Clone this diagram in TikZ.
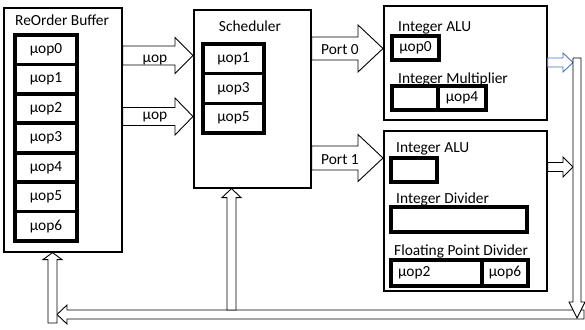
\documentclass[tikz,border=0pt]{standalone}
\usepackage{fontspec}
\setmainfont{Carlito}
\usetikzlibrary{calc}
\definecolor{portblue}{RGB}{68,114,196}
\tikzset{
  unitbox/.style={draw, line width=1.6pt, anchor=north west, inner sep=0pt},
  cell/.style={draw, line width=3.6pt, inner sep=0pt, minimum height=29.4pt},
  slot/.style={draw, line width=3.8pt, inner sep=0pt, minimum height=24pt},
  caption/.style={anchor=base west, inner sep=0pt},
  arrowtext/.style={anchor=base, inner sep=0pt},
  blockarrow/.style={draw, fill=white, line width=0.9pt, line join=miter},
}
% block arrows: [style]{start}{end}{half shaft}{half head}{offset of head base}
\newcommand\hblock[6][]{%
  \draw[blockarrow,#1] ($(#2)+(0,-#4)$) -- ($(#3)+(#6,-#4)$) -- ($(#3)+(#6,-#5)$) -- (#3)
    -- ($(#3)+(#6,#5)$) -- ($(#3)+(#6,#4)$) -- ($(#2)+(0,#4)$) -- cycle;}
\newcommand\vblock[6][]{%
  \draw[blockarrow,#1] ($(#2)+(-#4,0)$) -- ($(#3)+(-#4,#6)$) -- ($(#3)+(-#5,#6)$) -- (#3)
    -- ($(#3)+(#5,#6)$) -- ($(#3)+(#4,#6)$) -- ($(#2)+(#4,0)$) -- cycle;}
\begin{document}
\begin{tikzpicture}[x=1pt,y=-1pt,font=\fontsize{15.4}{18}\selectfont]
  \useasboundingbox (0,0) rectangle (585,329);
  % reorder buffer
  \node[unitbox, minimum width=118, minimum height=244] (rob) at (3,7) {};
  \node[caption] (robtitle) at (15,26) {ReOrder Buffer};
  \foreach \i in {0,...,6}
    \node[cell, minimum width=62] (r\i) at (46,{49.7+\i*29.43}) {µop\i};
  % scheduler
  \node[unitbox, minimum width=117, minimum height=178] (sched) at (193,9) {};
  \node[arrowtext] (schedtitle) at (250,32) {Scheduler};
  \foreach \n [count=\k from 0] in {1,3,5}
    \node[cell, minimum width=61, minimum height=29.7] (s\n) at (233.5,{58.8+\k*29.7}) {µop\n};
  % execution units behind port 0
  \node[unitbox, minimum width=163, minimum height=114] (unit0) at (383,5) {};
  \node[caption] (alu0title) at (398,32) {Integer ALU};
  \node[slot, minimum width=47] (alu0) at (415.5,48) {µop0};
  \node[caption] (multitle) at (398,83) {Integer Multiplier};
  \node[slot, minimum width=46] (mula) at (415,98) {};
  \node[slot, minimum width=48] (mulb) at (462,98) {µop4};
  % execution units behind port 1
  \node[unitbox, minimum width=163, minimum height=160] (unit1) at (383,130) {};
  \node[caption] (alu1title) at (396,152) {Integer ALU};
  \node[slot, minimum width=46] (alu1) at (414,170) {};
  \node[caption] (divtitle) at (396,203) {Integer Divider};
  \node[slot, minimum width=136, minimum height=25] (div) at (459,219.5) {};
  \node[caption] (fpdtitle) at (394,255) {Floating Point Divider};
  \node[slot, minimum width=91, minimum height=26, text width=77, inner xsep=7, align=left] (fpda) at (436.5,273) {µop2};
  \node[slot, minimum width=46, minimum height=26] (fpdb) at (505,273) {µop6};
  % ends of the arrows
  \coordinate (a1s) at (rob.east |- 0,55.5);
  \coordinate (a1e) at (sched.west |- 0,55.5);
  \coordinate (a2s) at (rob.east |- 0,116.5);
  \coordinate (a2e) at (sched.west |- 0,116.5);
  \coordinate (p0s) at (sched.east |- 0,48.5);
  \coordinate (p0e) at (unit0.west |- 0,48.5);
  \coordinate (p1s) at (sched.east |- 0,158);
  \coordinate (p1e) at (unit1.west |- 0,158);
  \coordinate (o0s) at (unit0.east |- 0,62.5);
  \coordinate (o0e) at (573,62.5);
  \coordinate (o1s) at (unit1.east |- 0,167);
  \coordinate (o1e) at (573,167);
  \coordinate (bustop) at (577,58);
  \coordinate (busbot) at (577,318);
  \coordinate (rets) at (584,314.5);
  \coordinate (rete) at (57,314.5);
  \coordinate (robs) at (52.5,323);
  \coordinate (robe) at (52.5,0 |- rob.south);
  \coordinate (scheds) at (231.5,310);
  \coordinate (schede) at (231.5,0 |- sched.south);
  % arrows
  \hblock{a1s}{a1e}{9.5}{18}{-18}
  \hblock{a2s}{a2e}{9}{18.5}{-18}
  \hblock{p0s}{p0e}{11.5}{23.5}{-25}
  \hblock{p1s}{p1e}{12}{23.5}{-25}
  \hblock[draw=portblue]{o0s}{o0e}{4.5}{9.5}{-10}
  \hblock{o1s}{o1e}{4.5}{10}{-10}
  \hblock{rets}{rete}{4.5}{9.5}{10}
  \vblock{bustop}{busbot}{4}{8}{-16}
  \vblock{robs}{robe}{4.5}{9.5}{7}
  \vblock{scheds}{schede}{4.5}{9.5}{9}
  % arrow labels
  \node[arrowtext] (a1lbl) at (155,62) {µop};
  \node[arrowtext] (a2lbl) at (155,119.5) {µop};
  \node[arrowtext] (p0lbl) at (340,55) {Port 0};
  \node[arrowtext] (p1lbl) at (340,164) {Port 1};
\end{tikzpicture}
\end{document}
